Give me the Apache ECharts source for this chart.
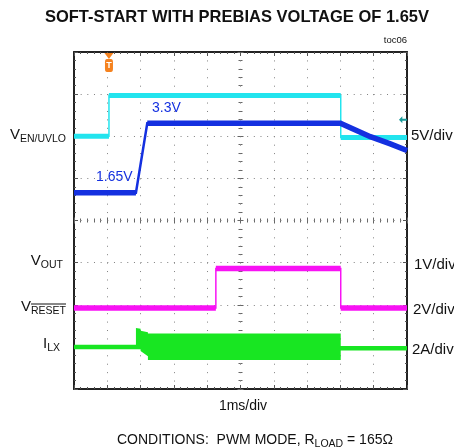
<!DOCTYPE html>
<html>
<head>
<meta charset="utf-8">
<script src="https://cdn.jsdelivr.net/npm/echarts@6/dist/echarts.min.js"></script>
<style>
  html, body { margin: 0; padding: 0; background: #fff; }
  #chart { width: 454px; height: 448px; }
</style>
</head>
<body>
<div id="chart"></div>
<script>
// scope traces, in divisions (x: 0..10, y: 0..8 from bottom)
const enTime = [0, 1.05, 1.05, 8.01, 8.01, 10];
const enLevel = [6.0, 6.0, 6.97, 6.97, 5.97, 5.97];
const outTime = [0, 1.86, 2.2, 8.0, 8.3, 8.9, 9.5, 10];
const outLevel = [4.66, 4.66, 6.31, 6.31, 6.2, 5.99, 5.82, 5.66];
const rstTime = [0, 4.26, 4.26, 8.01, 8.01, 10];
const rstLevel = [1.92, 1.92, 2.86, 2.86, 1.92, 1.92];
const lxTime = [0, 1.86, 8.01, 10];
const lxLevel = [1.0, 1.0, 0.97, 0.97];
const burstTime = [1.86, 2.0, 2.0, 2.22, 2.22, 8.01];
const burstTop = [1.45, 1.43, 1.38, 1.35, 1.32, 1.32];
const burstBottom = [1.0, 1.0, 0.9, 0.78, 0.69, 0.69];
const trigTime = 1.05;
const refLevel = 6.39;

const FONT = "'Liberation Sans', Arial, sans-serif";
const CYAN = '#22e4ee';
const BLUE = '#1430e0';
const MAGENTA = '#f812f4';
const GREEN = '#18e622';
const ORANGE = '#f5821f';

const measure = document.createElement('canvas').getContext('2d');
function textWidth(text, size, weight) {
  measure.font = (weight || 'normal') + ' ' + size + 'px ' + FONT;
  return measure.measureText(text).width;
}

function pairs(time, level) {
  return time.map((t, i) => [t, level[i]]);
}

// pieces of a trace that are not steep edges (drawn thick, like the noisy scope band)
function flatRuns(time, level) {
  const runs = [];
  let cur = null;
  for (let i = 0; i < time.length - 1; i++) {
    const dx = time[i + 1] - time[i];
    const steep = dx === 0 || Math.abs((level[i + 1] - level[i]) / dx) > 2;
    if (steep) { cur = null; continue; }
    if (!cur) { cur = [[time[i], level[i]]]; runs.push(cur); }
    cur.push([time[i + 1], level[i + 1]]);
  }
  return runs;
}

function lineSeries(data, color, width, extra) {
  return Object.assign({
    type: 'line',
    data: data,
    showSymbol: false,
    silent: true,
    z: 3,
    lineStyle: { color: color, width: width, cap: 'butt', join: 'miter' },
  }, extra || {});
}

function trace(time, level, color, thin, thick) {
  const list = [lineSeries(pairs(time, level), color, thin)];
  flatRuns(time, level).forEach((run) => list.push(lineSeries(run, color, thick)));
  return list;
}

function txt(x, y, text, opt) {
  opt = opt || {};
  const align = opt.align || 'left';
  return {
    type: 'text', x: x, y: y, silent: true,
    style: {
      text: text,
      fill: opt.color || '#111',
      font: (opt.weight || 'normal') + ' ' + (opt.size || 14) + 'px ' + FONT,
      textAlign: align, align: align,
      textVerticalAlign: 'middle', verticalAlign: 'middle',
    },
  };
}

// "V" with a subscript, right edge at x
function subLabel(main, sub, right, yMain, ySub, overline) {
  const subW = textWidth(sub, 10.5);
  const els = [
    txt(right - subW, yMain, main, { size: 15, align: 'right' }),
    txt(right - subW, ySub, sub, { size: 10.5 }),
  ];
  if (overline) {
    els.push({
      type: 'line', silent: true,
      shape: { x1: right - subW, y1: ySub - 7, x2: right, y2: ySub - 7 },
      style: { stroke: '#111', lineWidth: 1 },
    });
  }
  return els;
}

function borderAxis(extra) {
  return Object.assign({
    type: 'value',
    axisLine: { show: true, onZero: false, lineStyle: { color: '#222', width: 2 } },
    axisTick: { show: true, inside: true, length: 4, lineStyle: { color: '#555' } },
    minorTick: { show: true, splitNumber: 5, length: 2, lineStyle: { color: '#555' } },
    axisLabel: { show: false },
    splitLine: { show: false },
  }, extra);
}

function centerAxis(extra, inside) {
  return Object.assign({
    type: 'value',
    axisLine: { show: false, onZero: false },
    axisTick: { show: true, inside: inside, length: 3, lineStyle: { color: '#666' } },
    minorTick: { show: true, splitNumber: 5, length: 2, lineStyle: { color: '#666' } },
    axisLabel: { show: false },
    splitLine: { show: false },
  }, extra);
}

const xRange = { min: 0, max: 10, interval: 1 };
const yRange = { min: 0, max: 8, interval: 1 };

const series = [].concat(
  trace(enTime, enLevel, CYAN, 1.5, 5),
  trace(rstTime, rstLevel, MAGENTA, 1.5, 5.5),
  [lineSeries(pairs(lxTime, lxLevel), GREEN, 4.5)],
  [{
    type: 'custom',
    silent: true,
    z: 4,
    data: [[0, 0]],
    renderItem: (params, api) => {
      const top = burstTime.map((t, i) => api.coord([t, burstTop[i]]));
      const bottom = burstTime.map((t, i) => api.coord([t, burstBottom[i]])).reverse();
      return { type: 'polygon', shape: { points: top.concat(bottom) }, style: { fill: GREEN } };
    },
  }],
  trace(outTime, outLevel, BLUE, 2.5, 5.5)
);

// trigger marker and reference arrow
series[0].markPoint = {
  silent: true,
  animation: false,
  z: 10,
  data: [
    { coord: [trigTime, 8], symbol: 'triangle', symbolRotate: 180, symbolSize: [9, 6], symbolOffset: [0, 4],
      itemStyle: { color: ORANGE }, label: { show: false } },
    { coord: [trigTime, 8], symbol: 'roundRect', symbolSize: [8, 13], symbolOffset: [0, 13.5],
      itemStyle: { color: ORANGE },
      label: { show: true, position: 'inside', formatter: 'T', color: '#fff', fontSize: 9, fontWeight: 'bold', fontFamily: FONT } },
    { coord: [10, refLevel], symbol: 'path://M0,5 L5,0 L5,3.5 L12,3.5 L12,6.5 L5,6.5 L5,10 Z',
      symbolSize: [8, 7], symbolOffset: [-4, 0], itemStyle: { color: '#1a9a9a' }, label: { show: false } },
  ],
};

const condPre = 'CONDITIONS:  PWM MODE, R';
const condSub = 'LOAD';
const condPost = ' = 165\u03a9';
const condX = 117;
const condPreW = textWidth(condPre, 14);
const condSubW = textWidth(condSub, 10.5);

const graphic = [].concat(
  [
    txt(237, 17, 'SOFT-START WITH PREBIAS VOLTAGE OF 1.65V', { size: 16.5, weight: 'bold', align: 'center' }),
    txt(407, 40, 'toc06', { size: 9.5, align: 'right' }),
    txt(152, 108, '3.3V', { size: 14, color: BLUE }),
    txt(96, 177, '1.65V', { size: 14, color: BLUE }),
    txt(411, 136, '5V/div', { size: 15 }),
    txt(414, 265, '1V/div', { size: 15 }),
    txt(413, 310, '2V/div', { size: 15 }),
    txt(412, 350, '2A/div', { size: 15 }),
    txt(243, 406, '1ms/div', { size: 14, align: 'center' }),
    txt(condX, 440, condPre, { size: 14 }),
    txt(condX + condPreW, 444, condSub, { size: 10.5 }),
    txt(condX + condPreW + condSubW, 440, condPost, { size: 14 }),
  ],
  subLabel('V', 'EN/UVLO', 66, 135, 139),
  subLabel('V', 'OUT', 63, 261, 265),
  subLabel('V', 'RESET', 66, 307, 311, true),
  subLabel('I', 'LX', 60, 344, 348)
);

const chart = echarts.init(document.getElementById('chart'), null, { renderer: 'canvas' });
chart.setOption({
  animation: false,
  backgroundColor: '#fff',
  grid: { left: 74, top: 52, width: 333, height: 337 },
  xAxis: [
    borderAxis(Object.assign({ position: 'bottom',
      splitLine: { show: true, lineStyle: { color: '#808080', width: 1, type: [1, 7.425] } } }, xRange)),
    borderAxis(Object.assign({ position: 'top' }, xRange)),
    centerAxis(Object.assign({ position: 'top', offset: -168.5 }, xRange), true),
    centerAxis(Object.assign({ position: 'top', offset: -168.5 }, xRange), false),
  ],
  yAxis: [
    borderAxis(Object.assign({ position: 'left',
      splitLine: { show: true, lineStyle: { color: '#808080', width: 1, type: [1, 5.66] } } }, yRange)),
    borderAxis(Object.assign({ position: 'right' }, yRange)),
    centerAxis(Object.assign({ position: 'left', offset: -166.5 }, yRange), true),
    centerAxis(Object.assign({ position: 'left', offset: -166.5 }, yRange), false),
  ],
  series: series,
  graphic: graphic,
});
</script>
</body>
</html>
